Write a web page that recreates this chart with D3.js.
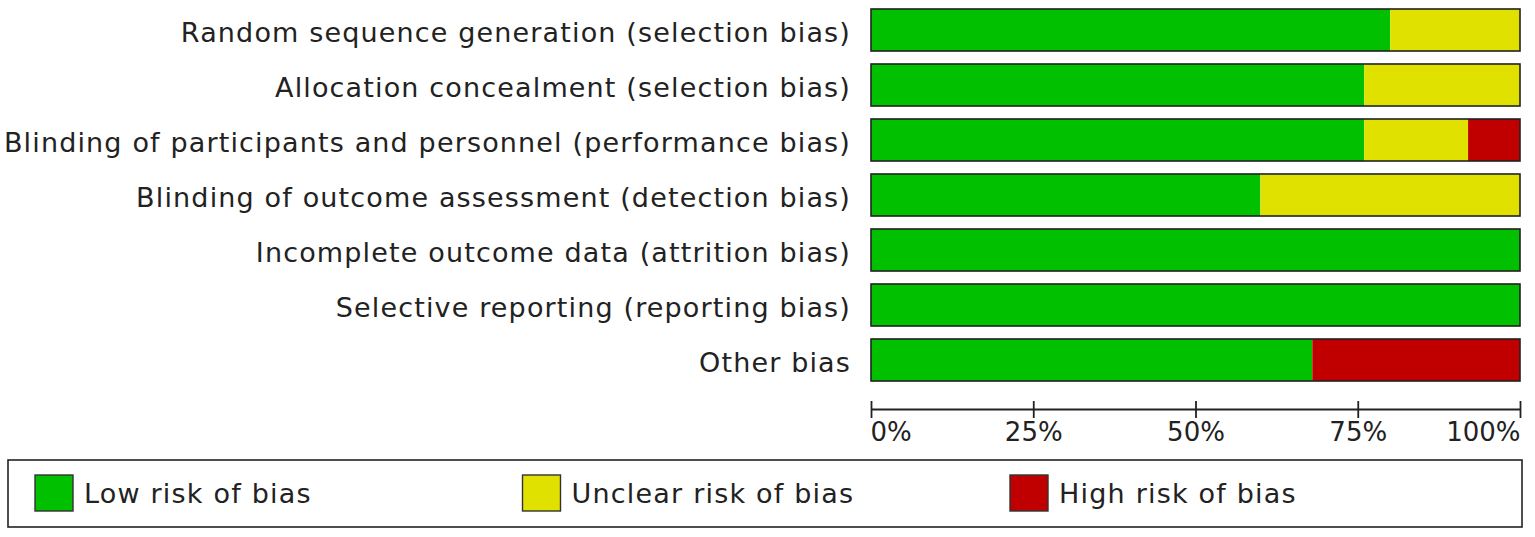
<!DOCTYPE html>
<html>
<head>
<meta charset="utf-8">
<script src="https://cdn.jsdelivr.net/npm/d3@7"></script>
<style>
  body { margin: 0; background: #fff; }
  svg text { font-family: "DejaVu Sans", Verdana, sans-serif; fill: #222; }
</style>
</head>
<body>
<div id="chart"></div>
<script>
// Risk of bias domains and percentage of studies per judgement
const domains = [
  "Random sequence generation (selection bias)",
  "Allocation concealment (selection bias)",
  "Blinding of participants and personnel (performance bias)",
  "Blinding of outcome assessment (detection bias)",
  "Incomplete outcome data (attrition bias)",
  "Selective reporting (reporting bias)",
  "Other bias"
];
const lowRisk = [80, 76, 76, 60, 100, 100, 68];
const unclearRisk = [20, 24, 16, 40, 0, 0, 0];
const highRisk = [0, 0, 8, 0, 0, 0, 32];
const tickValues = [0, 25, 50, 75, 100];
const legendLabels = ["Low risk of bias", "Unclear risk of bias", "High risk of bias"];
const colors = ["#00c000", "#e1e100", "#c00000"];

const fullWidth = 1535;
const fullHeight = 537;

const svg = d3.select("#chart").append("svg")
  .attr("width", fullWidth)
  .attr("height", fullHeight);

const x = d3.scaleLinear()
  .domain([0, 100])
  .range([871, 1520]);

const y = d3.scaleBand()
  .domain(domains)
  .range([2.5, 387.5])
  .paddingInner(0.236)
  .paddingOuter(0.118);

// Stack the three series
const rows = domains.map((d, i) => ({
  domain: d, low: lowRisk[i], unclear: unclearRisk[i], high: highRisk[i]
}));
const keys = ["low", "unclear", "high"];
const stacked = d3.stack().keys(keys)(rows);

const groups = svg.append("g")
  .selectAll("g")
  .data(stacked)
  .join("g")
  .attr("fill", (d, i) => colors[i]);

groups.selectAll("rect")
  .data(d => d.filter(s => s[1] - s[0] > 0))
  .join("rect")
  .attr("x", d => x(d[0]))
  .attr("y", d => y(d.data.domain))
  .attr("width", d => x(d[1]) - x(d[0]))
  .attr("height", y.bandwidth());

// Outline around each bar
svg.append("g")
  .selectAll("rect")
  .data(domains)
  .join("rect")
  .attr("x", x(0))
  .attr("y", d => y(d))
  .attr("width", x(100) - x(0))
  .attr("height", y.bandwidth())
  .attr("fill", "none")
  .attr("stroke", "#222")
  .attr("stroke-width", 1.6);

// Category labels
svg.append("g")
  .selectAll("text")
  .data(domains)
  .join("text")
  .attr("x", 851)
  .attr("y", d => y(d) + y.bandwidth() / 2)
  .attr("dy", "0.45em")
  .attr("text-anchor", "end")
  .style("font-size", "27px")
  .style("letter-spacing", "1.15px")
  .text(d => d);

// X axis
const axis = svg.append("g")
  .attr("transform", "translate(0,409)")
  .call(d3.axisBottom(x)
    .tickValues(tickValues)
    .tickSize(9)
    .tickSizeOuter(0)
    .tickFormat(d => d + "%"));

axis.select(".domain")
  .attr("stroke", "#222")
  .attr("stroke-width", 1.8);
axis.selectAll(".tick line")
  .attr("stroke", "#222")
  .attr("stroke-width", 1.8)
  .attr("y1", -8);
axis.selectAll(".tick text")
  .attr("y", 14)
  .attr("dy", "0.71em")
  .style("font-size", "26px")
  .style("font-family", "\"DejaVu Sans\", Verdana, sans-serif")
  .attr("fill", "#222")
  .attr("text-anchor", (d, i) => i === 0 ? "start" : (i === tickValues.length - 1 ? "end" : "middle"))
  .attr("dx", (d, i) => i === 0 ? -1 : 0);

// Legend
const legend = svg.append("g");
legend.append("rect")
  .attr("x", 8)
  .attr("y", 460)
  .attr("width", 1514)
  .attr("height", 67)
  .attr("fill", "#fff")
  .attr("stroke", "#222")
  .attr("stroke-width", 1.6);

const legendX = d3.scalePoint()
  .domain(legendLabels)
  .range([35, 1010]);

const items = legend.selectAll("g.item")
  .data(legendLabels)
  .join("g")
  .attr("class", "item")
  .attr("transform", d => `translate(${legendX(d)},475)`);

items.append("rect")
  .attr("width", 38)
  .attr("height", 36)
  .attr("fill", (d, i) => colors[i])
  .attr("stroke", "#333")
  .attr("stroke-width", 1.4);

items.append("text")
  .attr("x", 49)
  .attr("y", 18)
  .attr("dy", "0.36em")
  .style("font-size", "27px")
  .style("letter-spacing", "1.2px")
  .text(d => d);
</script>
</body>
</html>
